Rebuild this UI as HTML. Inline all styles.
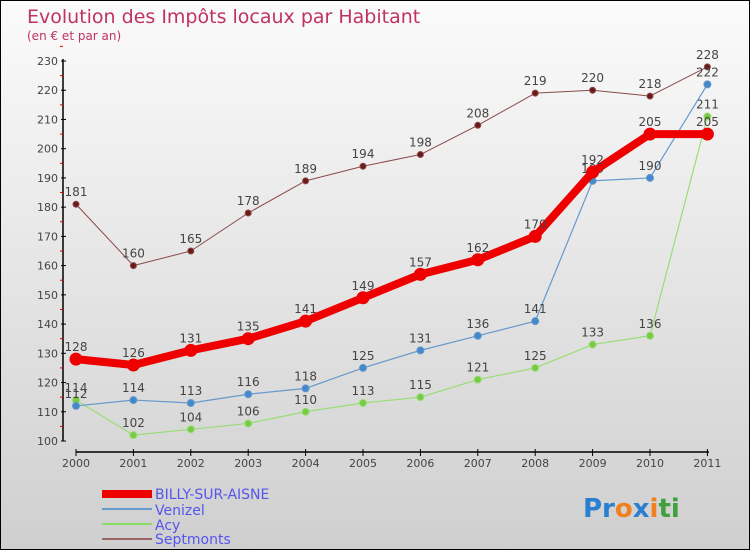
<!DOCTYPE html>
<html><head><meta charset="utf-8"><style>
body{margin:0}
#c{position:relative;width:748px;height:548px;border:1px solid #000;background:linear-gradient(#fbfbfb,#cfcfcf);font-family:"DejaVu Sans","Liberation Sans",sans-serif;overflow:hidden}
</style></head><body>
<div id="c">
<svg id="s" width="748" height="548" style="position:absolute;left:0;top:0" font-family="DejaVu Sans, Liberation Sans, sans-serif">
<text x="26" y="22" font-size="19" fill="#c0325f">Evolution des Impôts locaux par Habitant</text>
<text x="26" y="39" font-size="12" fill="#c0325f">(en € et par an)</text>
<g id="axes"></g><g id="series"></g>
<g font-size="14" fill="#5555ee">
<rect x="101" y="489" width="50" height="8" fill="#e00"/>
<text x="154" y="498">BILLY-SUR-AISNE</text>
<rect x="101" y="507" width="50" height="2" fill="#6699cc"/>
<text x="154" y="514">Venizel</text>
<rect x="101" y="522" width="50" height="2" fill="#88dd66"/>
<text x="154" y="529">Acy</text>
<rect x="101" y="537" width="50" height="2" fill="#996666"/>
<text x="154" y="543">Septmonts</text>
</g>
<text x="582" y="516" font-size="26" font-weight="bold"><tspan fill="#2a7fd0">Pr</tspan><tspan fill="#f08020">o</tspan><tspan fill="#2a7fd0">x</tspan><tspan fill="#f08020">i</tspan><tspan fill="#40a040">ti</tspan></text>
</svg></div>
<script>
const years=["2000","2001","2002","2003","2004","2005","2006","2007","2008","2009","2010","2011"];
const yTicks=[100,110,120,130,140,150,160,170,180,190,200,210,220,230];
const billy=[128,126,131,135,141,149,157,162,170,192,205,205];
const venizel=[112,114,113,116,118,125,131,136,141,189,190,222];
const acy=[114,102,104,106,110,113,115,121,125,133,136,211];
const septmonts=[181,160,165,178,189,194,198,208,219,220,218,228];
const NS="http://www.w3.org/2000/svg";
const X=i=>75+i*57.4, Y=v=>440-(v-100)*380/130;
function mk(t,a,p){const e=document.createElementNS(NS,t);for(const k in a)e.setAttribute(k,a[k]);p.appendChild(e);return e;}
const ax=document.getElementById('axes'),sg=document.getElementById('series');
let e=mk('line',{x1:62,y1:58,x2:62,y2:440,stroke:'#000','stroke-width':1.5},ax);


yTicks.forEach(v=>{
 mk('line',{x1:60,x2:65,y1:Y(v),y2:Y(v),stroke:'#000'},ax);
 mk('line',{x1:59,x2:62,y1:Y(v+5),y2:Y(v+5),stroke:'#d00'},ax);
 const t=mk('text',{x:57,y:Y(v)+4,'text-anchor':'end','font-size':11,fill:'#444'},ax);t.textContent=v;
 
 
});
e=mk('line',{x1:75,y1:451,x2:708,y2:451,stroke:'#000','stroke-width':1.5},ax);


years.forEach((y,i)=>{
 mk('line',{x1:X(i),x2:X(i),y1:448,y2:455,stroke:'#000'},ax);
 const t=mk('text',{x:X(i),y:466,'text-anchor':'middle','font-size':11,fill:'#444'},ax);t.textContent=y;
 
 
});
function series(data,name,col,dot,w,r,fs){
 const g=mk('g',{},sg);
 
 
 mk('polyline',{points:data.map((v,i)=>X(i)+','+Y(v)).join(' '),fill:'none',stroke:col,'stroke-width':w,'stroke-linejoin':'round'},g);
 data.forEach((v,i)=>{
  const c=mk('circle',{cx:X(i),cy:Y(v),r:r,fill:dot,stroke:col,'stroke-width':1},g);
  
  
  const t=mk('text',{x:X(i),y:Y(v)-8,'text-anchor':'middle','font-size':fs,fill:'#444'},g);t.textContent=v;
  
  
 });
}
series(septmonts,'septmonts','#8b4a4a','#6b1a1a',1,3,12);
series(acy,'acy','#99dd77','#77cc44',1.2,3.5,12);
series(venizel,'venizel','#6699cc','#4488cc',1.2,3.5,12);
series(billy,'billy','#e00','#e00',8,6,12);
</script>
</body></html>
